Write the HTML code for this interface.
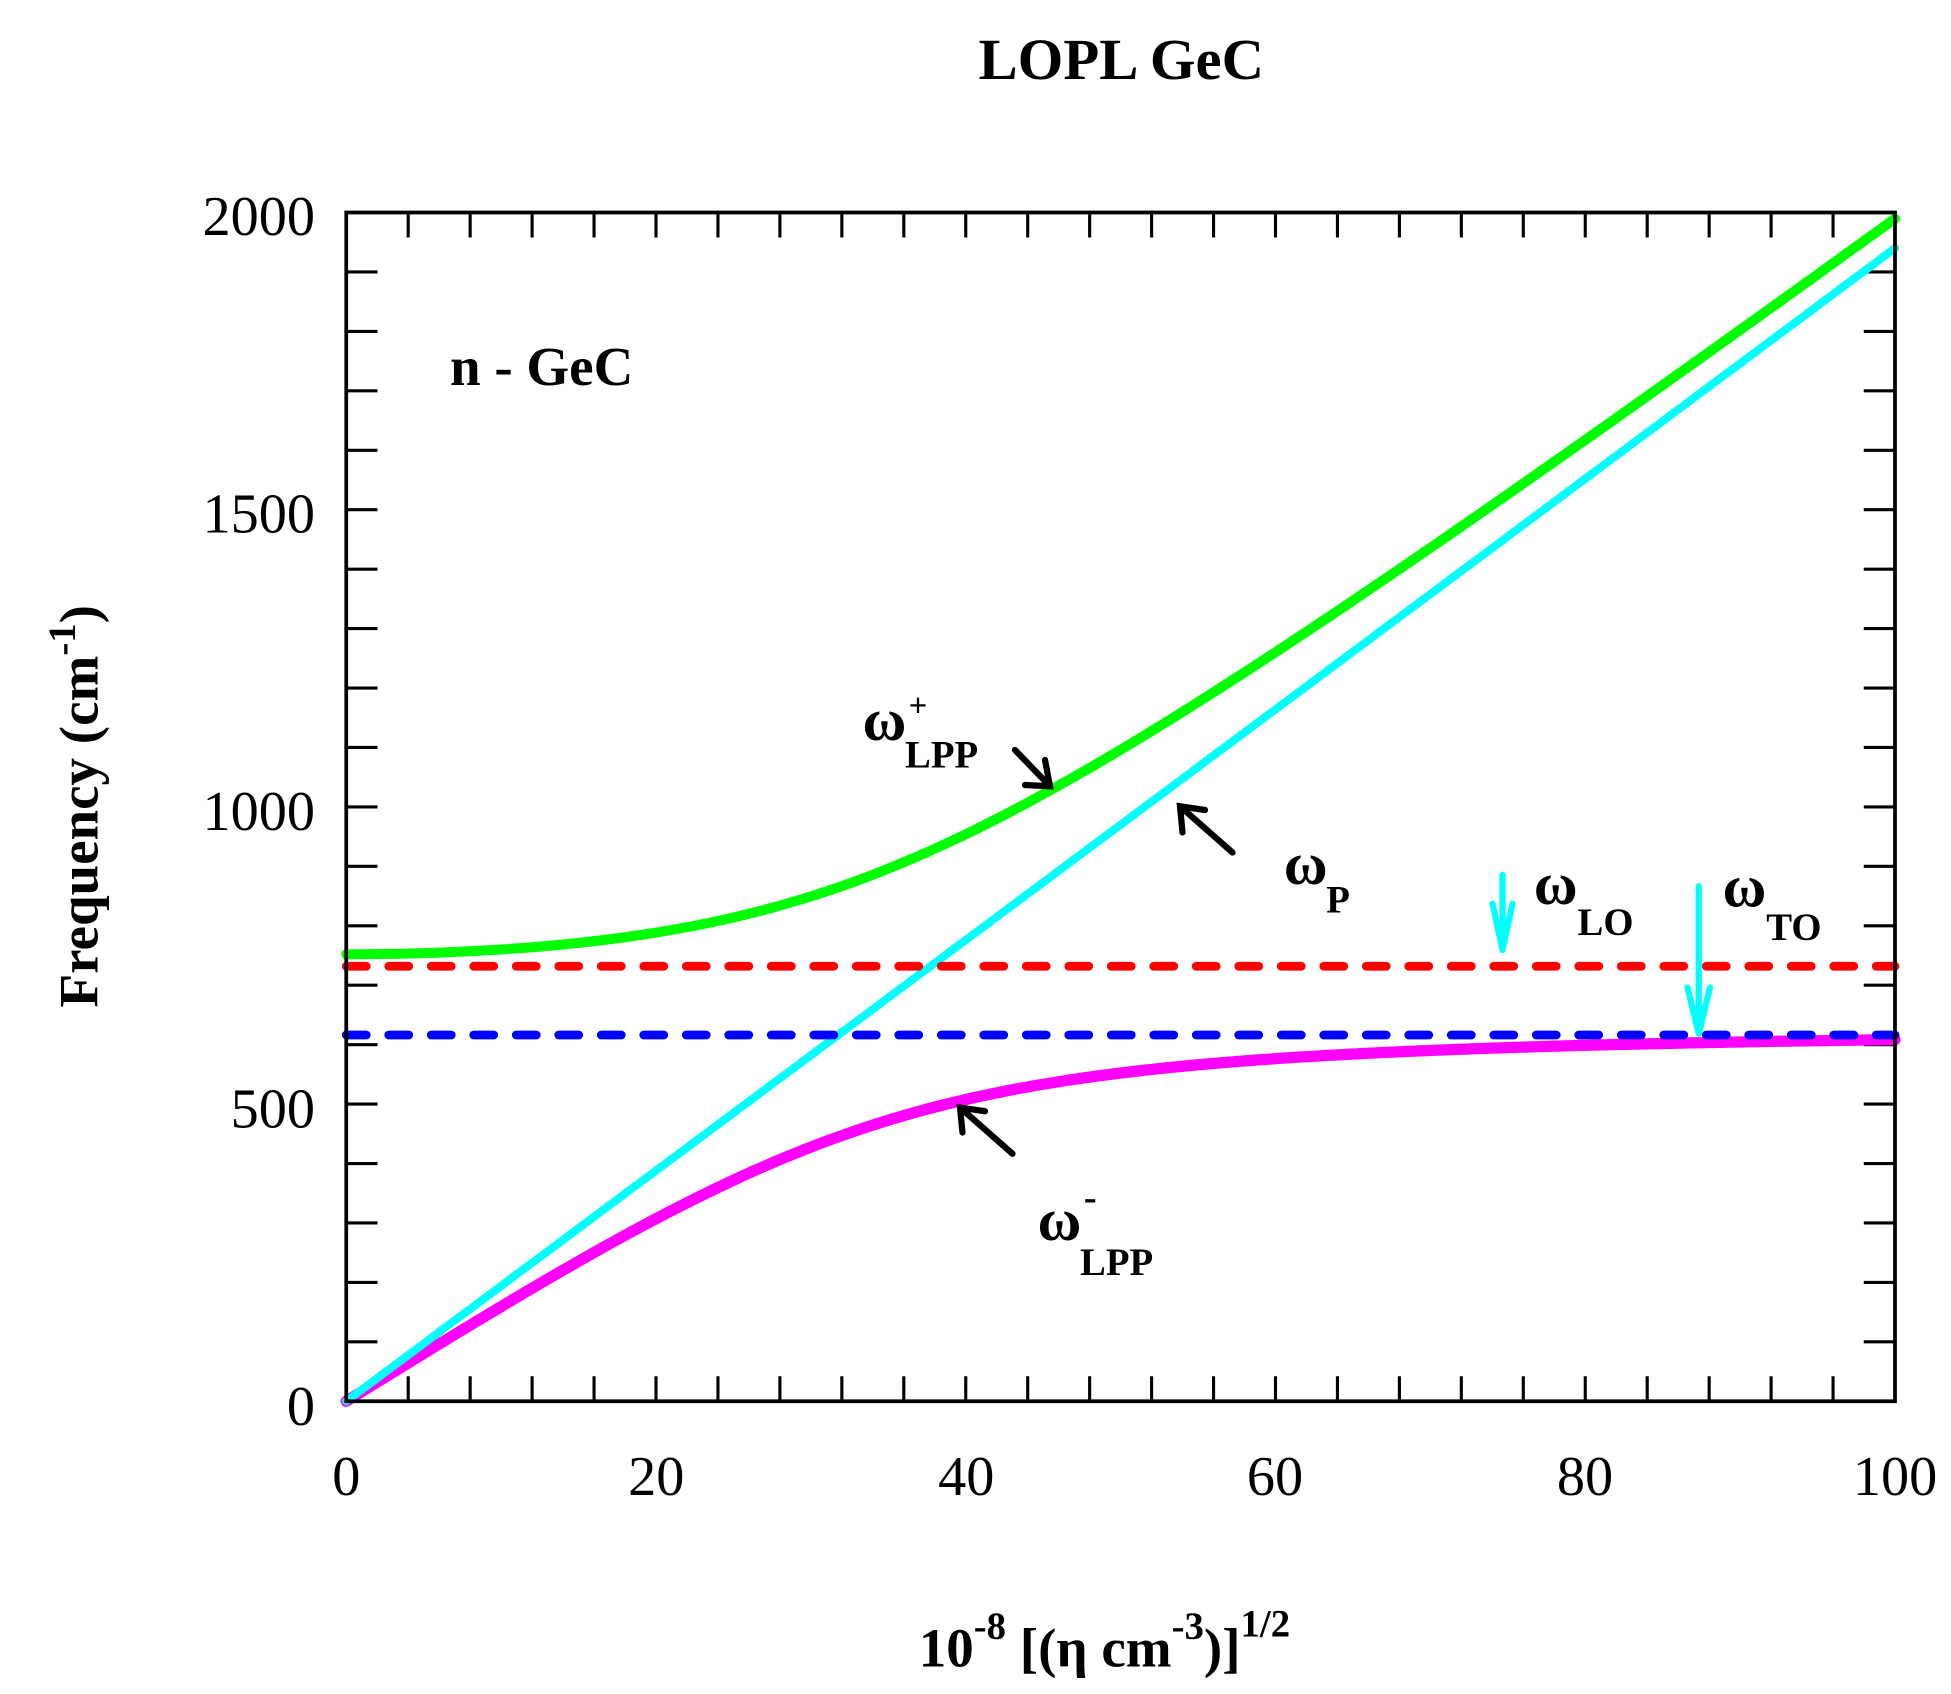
<!DOCTYPE html>
<html><head><meta charset="utf-8"><style>
html,body{margin:0;padding:0;background:#fff;}
svg{display:block;}
text{font-family:"Liberation Serif",serif;fill:#000;}
</style></head><body>
<svg id="s" width="1951" height="1694" viewBox="0 0 1560.8 1355.2" preserveAspectRatio="none" xmlns="http://www.w3.org/2000/svg">
<rect x="0" y="0" width="1560.8" height="1355.2" fill="#fff"/>
<g id="ticks" stroke="#000" stroke-width="2.5"></g>
<g id="curves" fill="none" stroke-linecap="round"></g>
<line x1="277" y1="773" x2="1516" y2="773" stroke="#f00" stroke-width="7" stroke-dasharray="16 18" stroke-linecap="round"/>
<line x1="277" y1="828" x2="1516" y2="828" stroke="#00f" stroke-width="7" stroke-dasharray="16 18" stroke-linecap="round"/>
<rect x="277" y="170" width="1239" height="951" fill="none" stroke="#000" stroke-width="3"/>
<g stroke="#000" stroke-width="5" fill="none" stroke-linecap="round">
<path d="M812 600 L840 629 M820 628 L840 629 L836 608"/>
<path d="M986 682 L944 645 M946 666 L944 645 L964 648"/>
<path d="M810 923 L768 886 M770 906 L768 886 L788 889"/>
</g>
<g stroke="#0ff" stroke-width="5" fill="none" stroke-linecap="round">
<path d="M1202 700 L1202 760 M1194 723 L1202 760 L1210 723"/>
<path d="M1359 709 L1359 827 M1350 790 L1359 827 L1368 790"/>
</g>
<text x="897" y="63" font-size="47" font-weight="bold" text-anchor="middle">LOPL GeC</text>
<text x="360" y="308" font-size="44" font-weight="bold">n - GeC</text>
<g font-size="45" text-anchor="end">
<text x="252" y="188">2000</text><text x="252" y="426">1500</text><text x="252" y="664">1000</text><text x="252" y="902">500</text><text x="252" y="1140">0</text>
</g>
<g font-size="45" text-anchor="middle">
<text x="277" y="1196">0</text><text x="525" y="1196">20</text><text x="773" y="1196">40</text><text x="1020" y="1196">60</text><text x="1268" y="1196">80</text><text x="1516" y="1196">100</text>
</g>
<text transform="translate(78,645) rotate(-90)" font-size="44" font-weight="bold" text-anchor="middle">Frequency (cm<tspan dy="-18" font-size="31">-1</tspan><tspan dy="18">)</tspan></text>
<text x="735" y="1333" font-size="44" font-weight="bold">10<tspan dy="-22" font-size="31">-8</tspan><tspan dy="22"> [(η cm</tspan><tspan dy="-22" font-size="31">-3</tspan><tspan dy="22">)]</tspan><tspan dy="-24" font-size="31">1/2</tspan></text>
<g font-weight="bold">
<text x="690" y="592" font-size="48">ω</text><text x="727" y="573" font-size="26">+</text><text x="724" y="614" font-size="31">LPP</text>
<text x="1027" y="707" font-size="48">ω</text><text x="1061" y="730" font-size="31">P</text>
<text x="1227" y="723" font-size="48">ω</text><text x="1262" y="748" font-size="31">LO</text>
<text x="1378" y="725" font-size="48">ω</text><text x="1413" y="752" font-size="31">TO</text>
<text x="830" y="992" font-size="48">ω</text><text x="867" y="968" font-size="31">-</text><text x="864" y="1020" font-size="31">LPP</text>
</g>
</svg>
<script>
var ns="http://www.w3.org/2000/svg";
var L=277,R=1516,T=170,B=1121;
function X(v){return L+(R-L)*v/100;}
function Y(v){return B-(B-T)*v/2000;}
var tg=document.getElementById('ticks');
function ln(x1,y1,x2,y2){var l=document.createElementNS(ns,'line');l.setAttribute('x1',x1);l.setAttribute('y1',y1);l.setAttribute('x2',x2);l.setAttribute('y2',y2);tg.appendChild(l);}
for(var v=4;v<100;v+=4){var x=X(v);ln(x,B,x,B-20);ln(x,T,x,T+20);}
for(var v=100;v<2000;v+=100){var y=Y(v);ln(L,y,L+25,y);ln(R,y,R-25,y);}
var cg=document.getElementById('curves');
function path(pts,col,w){var p=document.createElementNS(ns,'path');p.setAttribute('d','M'+pts.map(function(q){return q[0].toFixed(1)+' '+q[1].toFixed(1);}).join(' L'));p.setAttribute('stroke',col);p.setAttribute('stroke-width',w);cg.appendChild(p);}
var LO=752,TO=624,k=19.4;
var gp=[],mp=[],cp=[];
for(var i=0;i<=400;i++){var x=i/4;var p=k*x;var s=LO*LO+p*p;var d=Math.sqrt(s*s-4*p*p*TO*TO);
gp.push([X(x),Y(Math.sqrt((s+d)/2))]);mp.push([X(x),Y(Math.sqrt(Math.max(0,(s-d)/2)))]);cp.push([X(x),Y(p)]);}
path(mp,'#f0f',9);path(gp,'#0f0',8);path(cp,'#0ff',6.5);
</script>
</body></html>
